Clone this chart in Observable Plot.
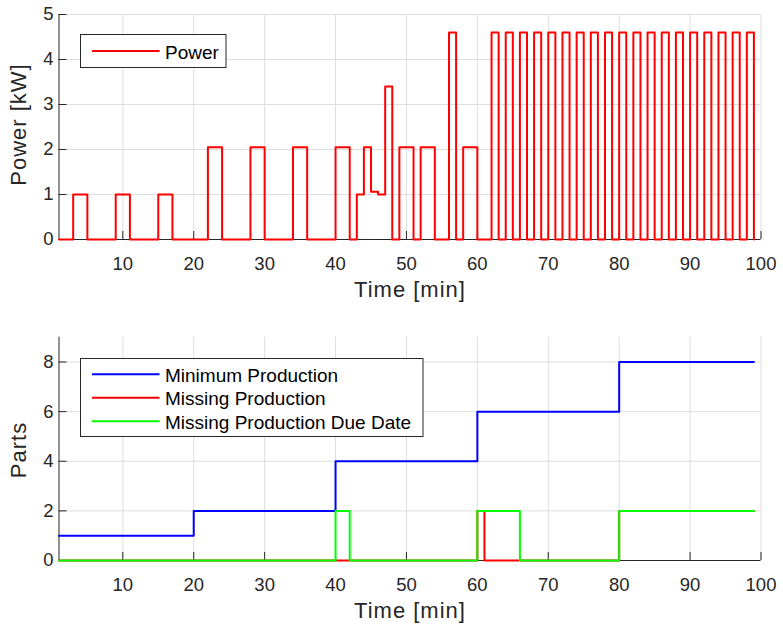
<!DOCTYPE html>
<html><head><meta charset="utf-8">
<script src="https://cdn.jsdelivr.net/npm/d3@7"></script>
<script src="https://cdn.jsdelivr.net/npm/@observablehq/plot@0.6"></script>
<style>
html,body{margin:0;padding:0;background:#fff;}
#wrap{position:relative;width:783px;height:627px;font-family:"Liberation Sans",Arial,Helvetica,sans-serif;}
#wrap svg{display:block;}
#overlay{position:absolute;left:0;top:0;}
</style></head><body><div id="wrap"></div>
<script>
// ---- Data ----
// Power: step breakpoints (time in min, value in kW), held until next breakpoint
const powerTime = [1,3,5,9,11,15,17,22,24,28,30,34,36,40,42,43,44,45,46,47,48,49,51,52,54,56,57,58,60,
  62,63,64,65,66,67,68,69,70,71,72,73,74,75,76,77,78,79,80,81,82,83,84,85,86,87,88,89,90,91,92,93,94,95,96,97,98,99];
const powerValue = [0,1,0,1,0,1,0,2.05,0,2.05,0,2.05,0,2.05,0,1,2.05,1.06,1,3.4,0,2.05,0,2.05,0,4.6,0,2.05,0,
  4.6,0,4.6,0,4.6,0,4.6,0,4.6,0,4.6,0,4.6,0,4.6,0,4.6,0,4.6,0,4.6,0,4.6,0,4.6,0,4.6,0,4.6,0,4.6,0,4.6,0,4.6,0,4.6,0];

// Parts series: step breakpoints
const minProdTime = [1,20,40,60,80,99];
const minProdValue = [1,2,4,6,8,8];
const missingTime = [1,60,61,80,99];
const missingValue = [0,2,0,2,2];
const dueTime = [1,40,42,60,66,80,99];
const dueValue = [0,2,0,2,0,2,2];

const xTicks = [10,20,30,40,50,60,70,80,90,100];
const powerTicks = [0,1,2,3,4,5];
const partsTicks = [0,2,4,6,8];
const xLabel = "Time [min]";
const powerLabel = "Power [kW]";
const partsLabel = "Parts";
const topLegend = ["Power"];
const bottomLegend = ["Minimum Production","Missing Production","Missing Production Due Date"];
const colors = {power:"#ff0000", min:"#0000ff", missing:"#ff0000", due:"#00ff00"};

const AX = "#262626", GRID = "#dedede", FONT = "'Liberation Sans',Arial,Helvetica,sans-serif";
const zip = (t, v) => t.map((d, i) => ({t: d, v: v[i]}));

function frame(yDomain, yTicks, height, mt, mb, lines) {
  return Plot.plot({
    width: 783, height,
    marginLeft: 58.5, marginRight: 22.5, marginTop: mt, marginBottom: mb,
    x: {domain: [1, 100]},
    y: {domain: yDomain},
    style: {fontFamily: FONT, fontSize: "18.5px", color: AX, background: "white", overflow: "visible"},
    marks: [
      Plot.gridX(xTicks, {stroke: GRID, strokeOpacity: 1, strokeWidth: 1}),
      Plot.gridY(yTicks.filter(v => v > yDomain[0]), {stroke: GRID, strokeOpacity: 1, strokeWidth: 1}),
      Plot.axisX(xTicks, {tickSize: -8, tickPadding: 25, label: null, fontSize: 18.5}),
      Plot.axisY(yTicks, {tickSize: -8, tickPadding: 13.5, label: null, fontSize: 18.5}),
      Plot.ruleX([1], {stroke: AX, strokeWidth: 1}),
      Plot.ruleY([yDomain[0]], {stroke: AX, strokeWidth: 1}),
      ...lines.map(l => Plot.line(l.data, {x: "t", y: "v", curve: "step-after", stroke: l.color, strokeWidth: 2}))
    ]
  });
}

const wrap = document.getElementById("wrap");
wrap.appendChild(frame([0, 5], powerTicks, 320, 14, 81,
  [{data: zip(powerTime, powerValue), color: colors.power}]));
wrap.appendChild(frame([0, 9], partsTicks, 307, 16.7, 67,
  [{data: zip(minProdTime, minProdValue), color: colors.min},
   {data: zip(missingTime, missingValue), color: colors.missing},
   {data: zip(dueTime, dueValue), color: colors.due}]));

// Overlay: axis titles and legends
const ov = d3.select(wrap).append("svg").attr("id", "overlay").attr("width", 783).attr("height", 627)
  .style("font-family", FONT);
function title(txt, x, y, rot) {
  ov.append("text").attr("transform", `translate(${x},${y}) rotate(${rot})`)
    .attr("text-anchor", "middle").attr("fill", AX).style("font-size", "22px")
    .style("letter-spacing", "1px").text(txt);
}
title(xLabel, 410, 296.7, 0);
title(xLabel, 410, 617.5, 0);
title(powerLabel, 26, 124.5, -90);
title(partsLabel, 26, 450, -90);

function legend(x, y, w, h, labels, cols, firstLineY, step) {
  const g = ov.append("g").style("font-size", "19px");
  g.append("rect").attr("x", x).attr("y", y).attr("width", w).attr("height", h)
    .attr("fill", "white").attr("stroke", AX).attr("stroke-width", 1);
  labels.forEach((lab, i) => {
    const ly = firstLineY + i * step;
    g.append("line").attr("x1", 92).attr("x2", 159.5).attr("y1", ly).attr("y2", ly)
      .attr("stroke", cols[i]).attr("stroke-width", 2);
    g.append("text").attr("x", 165).attr("y", ly + 7.5).attr("fill", "#000").text(lab);
  });
}
legend(80.5, 34.5, 145.5, 33, topLegend, [colors.power], 51, 0);
legend(80.5, 358.5, 342.5, 78, bottomLegend, [colors.min, colors.missing, colors.due], 374.3, 23.5);
</script></body></html>
